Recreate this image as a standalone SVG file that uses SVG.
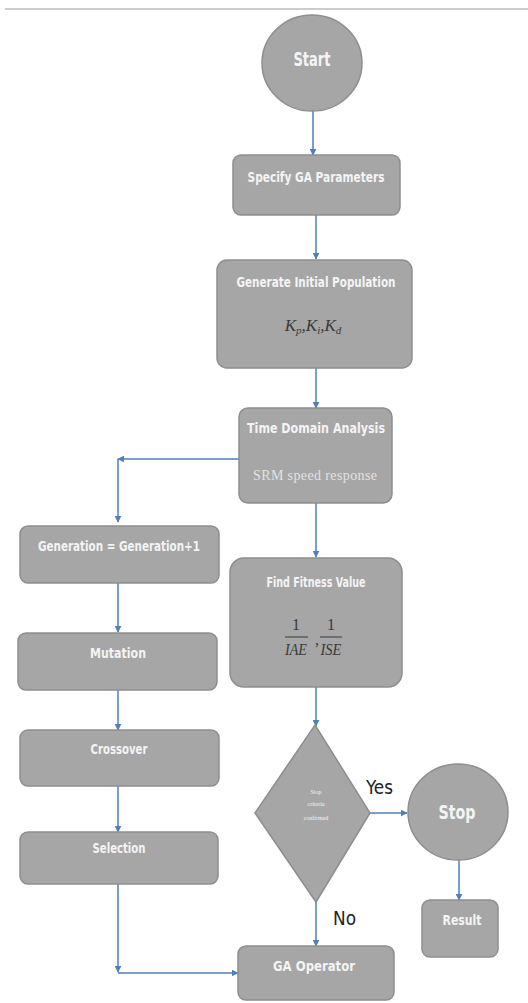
<svg xmlns="http://www.w3.org/2000/svg" width="528" height="1003" viewBox="0 0 528 1003">
<style>
.box{fill:#a6a6a6;stroke:#8e8e8e;stroke-width:1.5}
.lbl{font-family:"DejaVu Sans Condensed","Open Sans",sans-serif;fill:#f4f4f4;text-anchor:middle;font-size:14px;font-weight:bold}
.big{font-size:20px}
.math{font-family:"Liberation Serif",serif;font-style:italic;fill:#3a3a3a;text-anchor:middle;font-size:17px}
.num{font-family:"Liberation Serif",serif;fill:#3a3a3a;text-anchor:middle;font-size:16px}
.yn{font-family:"DejaVu Sans Condensed","Open Sans",sans-serif;fill:#222;font-size:19px}
.c{fill:none;stroke:#4f7fbd;stroke-width:1.5}
.a{marker-end:url(#ah)}
</style>
<defs>
<marker id="ah" viewBox="0 0 10 10" refX="9" refY="5" markerWidth="7" markerHeight="7" markerUnits="userSpaceOnUse" orient="auto">
<path d="M0,0 L10,5 L0,10 z" fill="#4f7fbd"/>
</marker>
</defs>
<rect width="528" height="1003" fill="#ffffff"/>
<line x1="5" y1="9" x2="528" y2="9" stroke="#cccccc" stroke-width="2"/>

<g id="connectors">
<path class="c a" d="M313,111 V155"/>
<path class="c a" d="M316,215 V259"/>
<path class="c a" d="M316,368 V408"/>
<path class="c a" d="M239,459 H118"/>
<path class="c a" d="M118,459 V522"/>
<path class="c a" d="M118,583 V632"/>
<path class="c a" d="M118,690 V730"/>
<path class="c a" d="M118,786 V832"/>
<path class="c a" d="M118,884 V972"/>
<path class="c a" d="M118,973 H238"/>
<path class="c a" d="M316,503 V557"/>
<path class="c a" d="M316,687 V726"/>
<path class="c a" d="M362,813 H407"/>
<path class="c a" d="M316,902 V946"/>
<path class="c a" d="M459,860 V900"/>
</g>

<g id="start">
<ellipse cx="312" cy="63" rx="50" ry="48" class="box"/>
<text x="312" y="66" class="lbl big" textLength="37" lengthAdjust="spacingAndGlyphs">Start</text>
</g>

<g id="specify">
<rect x="233" y="155" width="167" height="60" rx="8" class="box"/>
<text x="316" y="182" class="lbl" textLength="137" lengthAdjust="spacingAndGlyphs">Specify GA Parameters</text>
</g>

<g id="generate">
<rect x="217" y="260" width="195" height="108" rx="10" class="box"/>
<text x="316" y="287" class="lbl" textLength="159" lengthAdjust="spacingAndGlyphs">Generate Initial Population</text>
<text x="313" y="331" class="math">K<tspan font-size="11" dy="3">p</tspan><tspan dy="-3">,K</tspan><tspan font-size="11" dy="3">i</tspan><tspan dy="-3">,K</tspan><tspan font-size="11" dy="3">d</tspan></text>
</g>

<g id="timedomain">
<rect x="239" y="408" width="153" height="95" rx="9" class="box"/>
<text x="316" y="433" class="lbl" textLength="138" lengthAdjust="spacingAndGlyphs">Time Domain Analysis</text>
<text x="315" y="480" font-family="Liberation Serif, serif" font-size="14" fill="#e2e2e2" text-anchor="middle" textLength="124">SRM speed response</text>
</g>

<g id="generation">
<rect x="20" y="526" width="199" height="57" rx="8" class="box"/>
<text x="119" y="551" class="lbl" textLength="162" lengthAdjust="spacingAndGlyphs">Generation = Generation+1</text>
</g>

<g id="mutation">
<rect x="18" y="633" width="199" height="57" rx="8" class="box"/>
<text x="118" y="658" class="lbl" textLength="56" lengthAdjust="spacingAndGlyphs">Mutation</text>
</g>

<g id="crossover">
<rect x="20" y="730" width="199" height="56" rx="8" class="box"/>
<text x="119" y="754" class="lbl" textLength="57" lengthAdjust="spacingAndGlyphs">Crossover</text>
</g>

<g id="selection">
<rect x="20" y="832" width="198" height="52" rx="8" class="box"/>
<text x="119" y="853" class="lbl" textLength="53" lengthAdjust="spacingAndGlyphs">Selection</text>
</g>

<g id="fitness">
<rect x="230" y="558" width="172" height="129" rx="14" class="box"/>
<text x="316" y="587" class="lbl" textLength="99" lengthAdjust="spacingAndGlyphs">Find Fitness Value</text>
<text x="296" y="630" class="num">1</text>
<line x1="285" y1="637" x2="308" y2="637" stroke="#3a3a3a" stroke-width="1"/>
<text x="296" y="655" class="math" font-size="15" textLength="22" lengthAdjust="spacingAndGlyphs">IAE</text>
<text x="317" y="645" class="num">,</text>
<text x="331" y="630" class="num">1</text>
<line x1="320" y1="637" x2="342" y2="637" stroke="#3a3a3a" stroke-width="1"/>
<text x="331" y="655" class="math" font-size="15" textLength="21" lengthAdjust="spacingAndGlyphs">ISE</text>
</g>

<g id="decision">
<path d="M315,725 L370,813 L316,902 L255,813 Z" class="box"/>
<text x="316" y="794" font-family="Liberation Serif, serif" font-size="6" fill="#f4f4f4" text-anchor="middle">Stop</text>
<text x="316" y="806" font-family="Liberation Serif, serif" font-size="6" fill="#f4f4f4" text-anchor="middle">criteria</text>
<text x="316" y="820" font-family="Liberation Serif, serif" font-size="6" fill="#f4f4f4" text-anchor="middle">confirmed</text>
</g>
<text x="366" y="794" class="yn" textLength="27" lengthAdjust="spacingAndGlyphs">Yes</text>
<text x="333" y="925" class="yn" textLength="23" lengthAdjust="spacingAndGlyphs">No</text>

<g id="stop">
<ellipse cx="458" cy="812" rx="50" ry="48" class="box"/>
<text x="457" y="819" class="lbl big" font-size="22" textLength="37" lengthAdjust="spacingAndGlyphs">Stop</text>
</g>

<g id="result">
<rect x="422" y="900" width="76" height="57" rx="8" class="box"/>
<text x="462" y="925" class="lbl" textLength="39" lengthAdjust="spacingAndGlyphs">Result</text>
</g>

<g id="gaoperator">
<rect x="238" y="946" width="156" height="54" rx="8" class="box"/>
<text x="314" y="971" class="lbl" textLength="82" lengthAdjust="spacingAndGlyphs">GA Operator</text>
</g>
</svg>
